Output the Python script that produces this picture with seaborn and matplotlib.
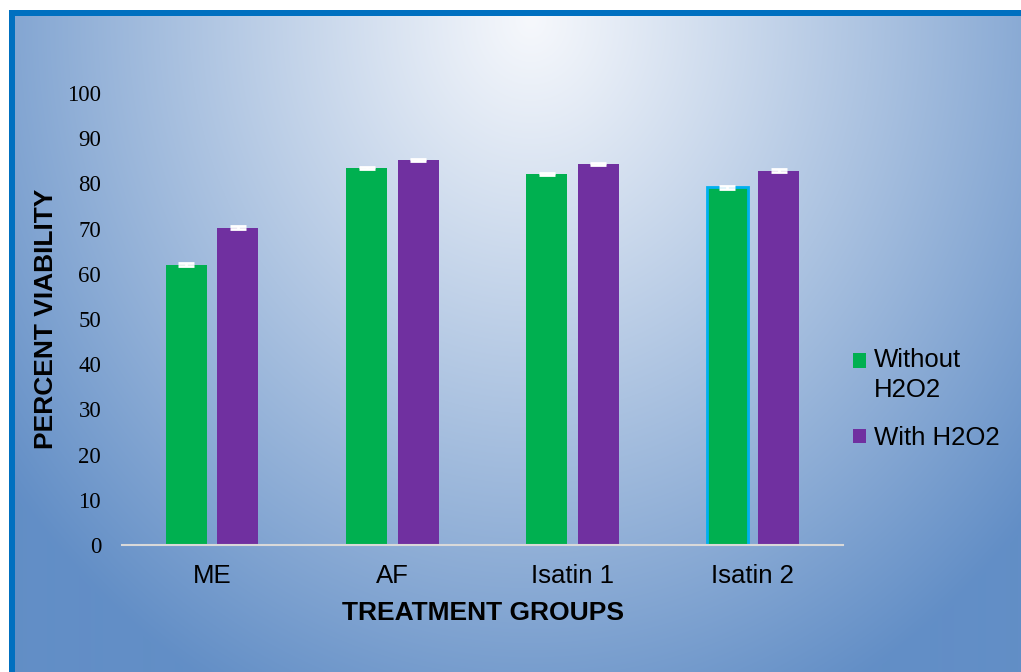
import numpy as np
import pandas as pd
import matplotlib
matplotlib.use("Agg")
import matplotlib.pyplot as plt
import seaborn as sns
from matplotlib.patches import Rectangle
from matplotlib.legend_handler import HandlerPatch

# ---- data ----
groups = ["ME", "AF", "Isatin 1", "Isatin 2"]
conditions = ["Without\nH2O2", "With H2O2"]
without_h2o2 = [62.0, 83.4, 82.1, 79.1]
with_h2o2 = [70.2, 85.2, 84.3, 82.8]
err_without = [0.3, 0.3, 0.3, 0.3]
err_with = [0.3, 0.3, 0.3, 0.3]
yticks = [0, 10, 20, 30, 40, 50, 60, 70, 80, 90, 100]

df = pd.DataFrame({
    "group": groups * 2,
    "condition": [conditions[0]] * 4 + [conditions[1]] * 4,
    "value": without_h2o2 + with_h2o2,
    "err": err_without + err_with,
})

sns.set_theme(style="white")
plt.rcParams["font.family"] = ["Liberation Sans", "DejaVu Sans"]

W, H = 1021, 672
fig = plt.figure(figsize=(W / 100, H / 100), dpi=100)

# ---- background gradient + frame ----
bg = fig.add_axes([0, 0, 1, 1], zorder=-10)
bg.set_axis_off()
yy, xx = np.mgrid[0:H, 0:W]
cx, cy, rx, ry = 530, 20, 660, 760
d = np.sqrt(((xx - cx) / rx) ** 2 + ((yy - cy) / ry) ** 2)
t = np.clip(d, 0, 1) ** 1.05
c0 = np.array([246, 248, 252]) / 255
c1 = np.array([98, 142, 198]) / 255
img = c0[None, None, :] * (1 - t[..., None]) + c1[None, None, :] * t[..., None]
bg.imshow(img, extent=[0, W, H, 0], aspect="auto", interpolation="bilinear")
bg.set_xlim(0, W)
bg.set_ylim(H, 0)
bg.add_patch(Rectangle((0, 0), W, 10, color="white", lw=0))
bg.add_patch(Rectangle((0, 0), 9, H, color="white", lw=0))
bg.add_patch(Rectangle((9, 10), W, 6, color="#0070c0", lw=0))
bg.add_patch(Rectangle((9, 10), 6, H, color="#0070c0", lw=0))

# ---- main axes ----
ax = fig.add_axes([122 / W, 1 - 545 / H, 721 / W, 452 / H])
ax.patch.set_alpha(0)
sns.barplot(data=df, x="group", y="value", hue="condition",
            palette=["#00b050", "#7030a0"], width=0.57, gap=0.2,
            errorbar=None, ax=ax, legend=True, saturation=1, zorder=2)

bars = [p for p in ax.patches if p.get_height() > 0]
for p in bars:
    p.set_linewidth(0)
for p in bars:
    cxp = p.get_x() + p.get_width() / 2
    if abs(cxp - 3) < 0.3 and abs(p.get_height() - without_h2o2[3]) < 1e-6:
        p.set_edgecolor("#00b0f0")
        p.set_linewidth(2)

# error bars from bar geometry
for p in bars:
    h = p.get_height()
    xc = p.get_x() + p.get_width() / 2
    idx = int(round(xc))
    e = err_without[idx] if abs(h - without_h2o2[idx]) < 1e-6 else err_with[idx]
    ax.errorbar(xc, h, yerr=e, color="white", capsize=6, elinewidth=2,
                capthick=2, zorder=4)

ax.set_ylim(0, 100)
ax.set_xlim(-0.5, 3.5)
ax.set_yticks(yticks)
ax.set_yticklabels([str(v) for v in yticks], fontfamily="Liberation Serif",
                   fontsize=16.5, color="black")
ax.tick_params(axis="y", length=0, pad=15)
ax.tick_params(axis="x", length=0, pad=14, labelsize=18.5, labelcolor="black")
for s in ["top", "right", "left"]:
    ax.spines[s].set_visible(False)
ax.spines["bottom"].set_color("#d9d9d9")
ax.spines["bottom"].set_linewidth(1.5)
ax.grid(False)

ax.set_xlabel("TREATMENT GROUPS", fontsize=19, fontweight="bold", color="black")
ax.xaxis.set_label_coords(0.5, -0.125)
ax.set_ylabel("PERCENT VIABILITY", fontsize=19, fontweight="bold", color="black")
ax.yaxis.set_label_coords(-0.089, 0.5)

handles = ax.get_legend().legend_handles
ax.get_legend().remove()
for hnd in handles:
    hnd.set_edgecolor("none")
    hnd.set_linewidth(0)


def shifted_square(legend, orig_handle, xdescent, ydescent, width, height, fontsize):
    return Rectangle((-xdescent, -ydescent + 10.5), width, height)


leg = ax.legend(handles, conditions, loc="upper left",
                bbox_to_anchor=(853 / W, 1 - 348 / H), bbox_transform=fig.transFigure,
                frameon=False, fontsize=18.5, handlelength=0.5, handleheight=0.5,
                handletextpad=0.3, labelspacing=0.95, borderpad=0, borderaxespad=0,
                handler_map={handles[0]: HandlerPatch(patch_func=shifted_square)})
for txt in leg.get_texts():
    txt.set_color("black")
    txt.set_linespacing(1.3)

fig.savefig("out.png", dpi=100)
